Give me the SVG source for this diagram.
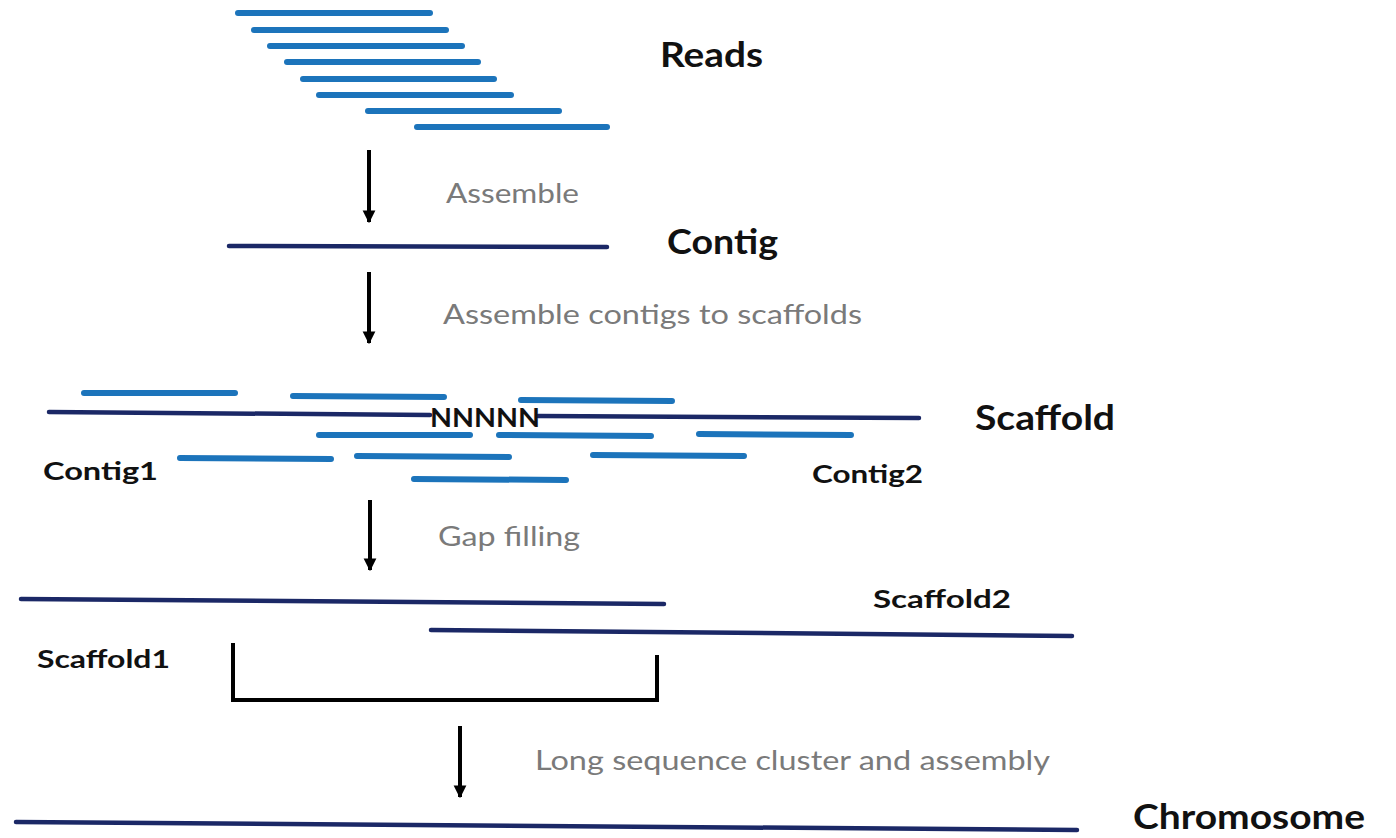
<svg xmlns="http://www.w3.org/2000/svg" width="1396" height="838" viewBox="0 0 1396 838">
  <defs>
    <style>
      .read { stroke: #1c74bb; stroke-width: 6; stroke-linecap: round; fill: none; }
      .seq { stroke: #1b2866; stroke-width: 4.5; stroke-linecap: round; fill: none; }
      .step { stroke: #000; stroke-width: 4; fill: none; }
      .title { font-family: Lato, "Liberation Sans", sans-serif; font-weight: bold; font-size: 35px; fill: #111; }
      .tag { font-family: Lato, "Liberation Sans", sans-serif; font-weight: bold; font-size: 25px; fill: #111; }
      .note { font-family: Lato, "Liberation Sans", sans-serif; font-size: 26px; fill: #7a7a7a; }
    </style>
    <marker id="head" viewBox="0 0 10 10" refX="9" refY="5" markerWidth="3.2" markerHeight="3.6" orient="auto" markerUnits="strokeWidth">
      <path d="M0,0 L10,5 L0,10 Z" fill="#000"/>
    </marker>
  </defs>
  <rect width="1396" height="838" fill="#fff"/>

  <!-- short reads -->
  <g id="reads">
    <line class="read" x1="238" y1="13" x2="430" y2="13"/>
    <line class="read" x1="254" y1="30" x2="446" y2="30"/>
    <line class="read" x1="270" y1="46" x2="462" y2="46"/>
    <line class="read" x1="287" y1="62" x2="478" y2="62"/>
    <line class="read" x1="303" y1="79" x2="494" y2="79"/>
    <line class="read" x1="319" y1="95" x2="511" y2="95"/>
    <line class="read" x1="368" y1="111" x2="559" y2="111"/>
    <line class="read" x1="417" y1="127" x2="607" y2="127"/>
    <text class="title" x="660" y="67" textLength="103" lengthAdjust="spacingAndGlyphs">Reads</text>
  </g>

  <!-- contig -->
  <g id="contig">
    <line class="seq" x1="229" y1="246" x2="607" y2="247"/>
    <text class="title" x="667" y="254" textLength="111" lengthAdjust="spacingAndGlyphs">Contig</text>
  </g>

  <!-- scaffold with gap and supporting reads -->
  <g id="scaffold">
    <line class="seq" x1="49" y1="412" x2="430" y2="415"/>
    <line class="seq" x1="538" y1="416" x2="919" y2="418"/>
    <text x="430" y="427" font-family="Lato, 'Liberation Sans', sans-serif" font-weight="bold" font-size="26" fill="#111" textLength="110" lengthAdjust="spacingAndGlyphs">NNNNN</text>
    <line class="read" x1="84" y1="393" x2="235" y2="393"/>
    <line class="read" x1="293" y1="396" x2="444" y2="397"/>
    <line class="read" x1="521" y1="400" x2="672" y2="401"/>
    <line class="read" x1="319" y1="435" x2="470" y2="435"/>
    <line class="read" x1="499" y1="435" x2="651" y2="436"/>
    <line class="read" x1="699" y1="434" x2="851" y2="435"/>
    <line class="read" x1="180" y1="458" x2="331" y2="459"/>
    <line class="read" x1="357" y1="456" x2="509" y2="457"/>
    <line class="read" x1="593" y1="455" x2="744" y2="456"/>
    <line class="read" x1="414" y1="479" x2="566" y2="480"/>
    <text class="title" x="975" y="430" textLength="140" lengthAdjust="spacingAndGlyphs">Scaffold</text>
    <text class="tag" x="43" y="480" textLength="115" lengthAdjust="spacingAndGlyphs">Contig1</text>
    <text class="tag" x="812" y="483" textLength="111" lengthAdjust="spacingAndGlyphs">Contig2</text>
  </g>

  <!-- gap-filled scaffolds -->
  <g id="scaffolds">
    <line class="seq" x1="21" y1="599" x2="664" y2="604"/>
    <line class="seq" x1="431" y1="630" x2="1072" y2="636"/>
    <text class="tag" x="873" y="608" textLength="138" lengthAdjust="spacingAndGlyphs">Scaffold2</text>
    <text class="tag" x="37" y="668" textLength="133" lengthAdjust="spacingAndGlyphs">Scaffold1</text>
    <path class="step" d="M233,643 V700 H657 V655"/>
  </g>

  <!-- chromosome -->
  <g id="chromosome">
    <line class="seq" x1="16" y1="822" x2="1077" y2="830"/>
    <text class="title" x="1133" y="829" font-size="33" textLength="232" lengthAdjust="spacingAndGlyphs">Chromosome</text>
  </g>

  <!-- step arrows and their labels -->
  <g id="connectors">
    <line class="step" x1="369" y1="150" x2="369" y2="222" marker-end="url(#head)"/>
    <line class="step" x1="369" y1="272" x2="369" y2="343" marker-end="url(#head)"/>
    <line class="step" x1="370" y1="500" x2="370" y2="570" marker-end="url(#head)"/>
    <line class="step" x1="460" y1="726" x2="460" y2="797" marker-end="url(#head)"/>
    <text class="note" x="446" y="203" textLength="133" lengthAdjust="spacingAndGlyphs">Assemble</text>
    <text class="note" x="443" y="324" textLength="419" lengthAdjust="spacingAndGlyphs">Assemble contigs to scaffolds</text>
    <text class="note" x="438" y="546" textLength="142" lengthAdjust="spacingAndGlyphs">Gap filling</text>
    <text class="note" x="535" y="770" font-size="29" textLength="515" lengthAdjust="spacingAndGlyphs">Long sequence cluster and assembly</text>
  </g>
</svg>
